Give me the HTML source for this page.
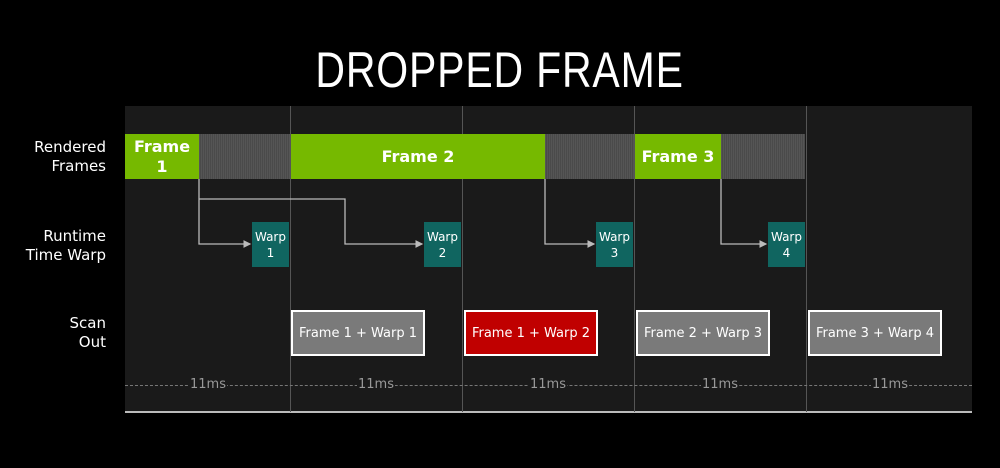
<!DOCTYPE html>
<html><head><style>
body{margin:0;width:1000px;height:468px;background:#000;overflow:hidden;position:relative;font-family:"DejaVu Sans","Liberation Sans",sans-serif}
.a{position:absolute}
.title{left:0;width:1000px;top:42px;text-align:center;color:#fff;font-family:"Liberation Sans",sans-serif;font-size:50px;line-height:56px;}
.title span{display:inline-block;transform:scaleX(0.82);letter-spacing:1px}
.lbl{color:#fff;font-size:15px;text-align:right;width:100px;left:6px;line-height:19px}
.g{background:#76b900;color:#fff;font-weight:bold;font-size:16px;display:flex;align-items:center;justify-content:center;text-align:center;line-height:20px}
.h{background:repeating-linear-gradient(90deg,#555 0 1px,#4a4a4a 1px 2px)}
.w{background:#106560;color:#fff;font-size:12px;text-align:center;line-height:16px;display:flex;align-items:center;justify-content:center}
.s{border:2px solid #fff;box-sizing:border-box;color:#fff;font-size:13px;display:flex;align-items:center;justify-content:center;background:#7a7a7a}
.ms{color:#999;font-size:13px;background:#1a1a1a;padding:0 1px;transform:translateX(-50%);top:377px}
</style></head><body>
<div class="a title"><span>DROPPED FRAME</span></div>
<div class="a" style="left:125px;top:106px;width:847px;height:306px;background:#1a1a1a"></div>
<div class="a" style="left:125px;top:411px;width:847px;height:2px;background:#bbb"></div>
<div class="a" style="left:290px;top:106px;width:1px;height:306px;background:#555"></div>
<div class="a" style="left:462px;top:106px;width:1px;height:306px;background:#555"></div>
<div class="a" style="left:634px;top:106px;width:1px;height:306px;background:#555"></div>
<div class="a" style="left:806px;top:106px;width:1px;height:306px;background:#555"></div>
<div class="a" style="left:125px;top:385px;width:847px;border-top:1px dashed #777"></div>
<div class="a lbl" style="top:138px">Rendered<br>Frames</div>
<div class="a lbl" style="top:227px">Runtime<br>Time Warp</div>
<div class="a lbl" style="top:314px">Scan<br>Out</div>
<div class="a g" style="left:125px;top:134px;width:74px;height:45px">Frame<br>1</div>
<div class="a h" style="left:199px;top:134px;width:91px;height:45px"></div>
<div class="a g" style="left:291px;top:134px;width:254px;height:45px">Frame 2</div>
<div class="a h" style="left:545px;top:134px;width:89px;height:45px"></div>
<div class="a g" style="left:635px;top:134px;width:86px;height:45px">Frame 3</div>
<div class="a h" style="left:721px;top:134px;width:84px;height:45px"></div>
<svg class="a" style="left:0;top:0" width="1000" height="468">
<defs><marker id="m" markerWidth="6" markerHeight="6" refX="5" refY="3" orient="auto"><path d="M0,0L6,3L0,6z" fill="#bbb"/></marker></defs>
<g fill="none" stroke="#bbb" stroke-width="1.3">
<path d="M199,179V244H250" marker-end="url(#m)"/>
<path d="M199,199H345V244H422" marker-end="url(#m)"/>
<path d="M545,179V244H594" marker-end="url(#m)"/>
<path d="M721,179V244H766" marker-end="url(#m)"/>
</g></svg>
<div class="a w" style="left:252px;top:222px;width:37px;height:45px">Warp<br>1</div>
<div class="a w" style="left:424px;top:222px;width:37px;height:45px">Warp<br>2</div>
<div class="a w" style="left:596px;top:222px;width:37px;height:45px">Warp<br>3</div>
<div class="a w" style="left:768px;top:222px;width:37px;height:45px">Warp<br>4</div>
<div class="a s" style="left:291px;top:310px;width:134px;height:46px">Frame 1 + Warp 1</div>
<div class="a s" style="left:464px;top:310px;width:134px;height:46px;background:#c00000">Frame 1 + Warp 2</div>
<div class="a s" style="left:636px;top:310px;width:134px;height:46px">Frame 2 + Warp 3</div>
<div class="a s" style="left:808px;top:310px;width:134px;height:46px">Frame 3 + Warp 4</div>
<div class="a ms" style="left:208px">11ms</div>
<div class="a ms" style="left:376px">11ms</div>
<div class="a ms" style="left:548px">11ms</div>
<div class="a ms" style="left:720px">11ms</div>
<div class="a ms" style="left:890px">11ms</div>
</body></html>
